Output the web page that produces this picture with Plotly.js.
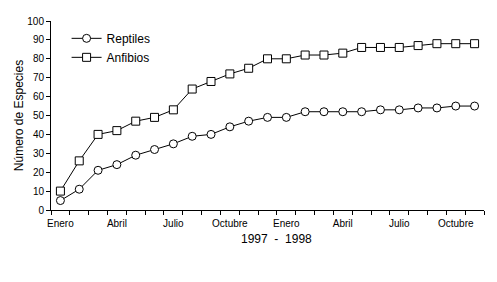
<!DOCTYPE html>
<html>
<head>
<meta charset="utf-8">
<script src="https://cdn.plot.ly/plotly-3.0.1.min.js"></script>
<style>html,body{margin:0;padding:0;background:#fff;}#chart{width:497px;height:282px;}</style>
</head>
<body>
<div id="chart"></div>
<script>
const months = ['Ene 97','Feb 97','Mar 97','Abr 97','May 97','Jun 97','Jul 97','Ago 97','Sep 97','Oct 97','Nov 97','Dic 97',
                'Ene 98','Feb 98','Mar 98','Abr 98','May 98','Jun 98','Jul 98','Ago 98','Sep 98','Oct 98','Nov 98'];
const reptiles = [5, 11, 21, 24, 29, 32, 35, 39, 40, 44, 47, 49, 49, 52, 52, 52, 52, 53, 53, 54, 54, 55, 55];
const anfibios = [10, 26, 40, 42, 47, 49, 53, 64, 68, 72, 75, 80, 80, 82, 82, 83, 86, 86, 86, 87, 88, 88, 88];
const tickLabelPos = [0, 3, 6, 9, 12, 15, 18, 21];
const tickLabels = ['Enero', 'Abril', 'Julio', 'Octubre', 'Enero', 'Abril', 'Julio', 'Octubre'];
const yTicks = [0,10,20,30,40,50,60,70,80,90,100];
const xTitle = '1997  -  1998';
const yTitle = 'Número de Especies';

const xIdx = months.map((m, i) => i);
const boundaries = [];
for (let i = 0; i <= months.length; i++) boundaries.push(i - 0.5);
const xr = [-0.5, months.length - 0.5];

const tickFont = {family: '"Liberation Sans Narrow", "Arial Narrow", Arial, sans-serif', size: 10, color: '#000'};

const traces = [
  {x: xIdx, y: reptiles, name: 'Reptiles', type: 'scatter', mode: 'lines+markers',
   line: {color: '#000', width: 1},
   marker: {symbol: 'circle', size: 8, color: '#fff', line: {color: '#000', width: 1}}},
  {x: xIdx, y: anfibios, name: 'Anfibios', type: 'scatter', mode: 'lines+markers',
   line: {color: '#000', width: 1},
   marker: {symbol: 'square', size: 8, color: '#fff', line: {color: '#000', width: 1}}},
  {x: [xIdx[0]], y: [null], xaxis: 'x2', showlegend: false, hoverinfo: 'skip', mode: 'markers'}
];

const layout = {
  width: 497, height: 282,
  margin: {l: 51, r: 13, t: 21, b: 72},
  paper_bgcolor: '#fff', plot_bgcolor: '#fff',
  font: {family: 'Arial, "Liberation Sans", sans-serif', color: '#000', size: 12},
  showlegend: true,
  legend: {x: 0.036, y: 0.985, xanchor: 'left', yanchor: 'top', bgcolor: 'rgba(0,0,0,0)',
           font: {size: 12, family: 'Arial, "Liberation Sans", sans-serif'}, tracegroupgap: 0, itemwidth: 30},
  xaxis: {range: xr, tickmode: 'array', tickvals: boundaries, showticklabels: false,
          ticks: 'outside', ticklen: 4, tickcolor: '#000', tickwidth: 1,
          showline: true, linecolor: '#000', linewidth: 1, showgrid: false, zeroline: false},
  xaxis2: {range: xr, overlaying: 'x', anchor: 'y', side: 'bottom', tickmode: 'array',
           tickvals: tickLabelPos, ticktext: tickLabels, ticks: '', showline: false, showgrid: false,
           zeroline: false, tickfont: tickFont, ticklabelstandoff: 6},
  yaxis: {range: [0, 100], tickmode: 'array', tickvals: yTicks, ticks: 'outside', ticklen: 4,
          tickcolor: '#000', tickwidth: 1, showline: true, linecolor: '#000', linewidth: 1,
          showgrid: false, zeroline: false, tickfont: tickFont,
          title: {text: yTitle, font: {size: 12}, standoff: 1}},
  annotations: [{text: xTitle, xref: 'paper', yref: 'paper', x: 0.52, y: -0.153,
                 xanchor: 'center', yanchor: 'middle', showarrow: false, font: {size: 12}}]
};

Plotly.newPlot('chart', traces, layout, {staticPlot: true, displayModeBar: false});
</script>
</body>
</html>
